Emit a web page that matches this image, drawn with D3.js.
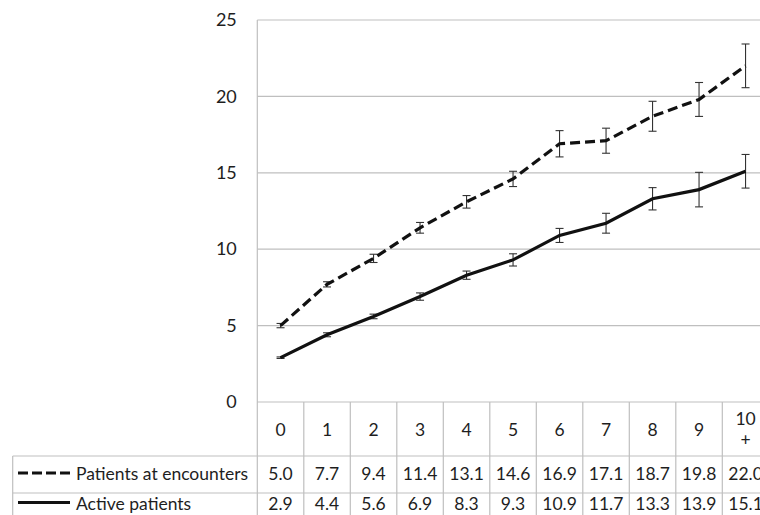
<!DOCTYPE html>
<html>
<head>
<meta charset="utf-8">
<script src="https://cdn.jsdelivr.net/npm/d3@7"></script>
<style>
  html, body { margin: 0; padding: 0; background: #fff; }
  svg { display: block; }
  text { font-family: Lato, "Open Sans", sans-serif; fill: #1e1e1e; }
</style>
</head>
<body>
<script>
// Categories along the x axis (shown in the header row of the data table)
const categories = ["0", "1", "2", "3", "4", "5", "6", "7", "8", "9", "10+"];

// Series values and their error-bar half widths
const encounters    = [5.0, 7.7, 9.4, 11.4, 13.1, 14.6, 16.9, 17.1, 18.7, 19.8, 22.0];
const encountersErr = [0.14, 0.17, 0.27, 0.35, 0.41, 0.50, 0.86, 0.82, 0.98, 1.11, 1.43];
const active        = [2.9, 4.4, 5.6, 6.9, 8.3, 9.3, 10.9, 11.7, 13.3, 13.9, 15.1];
const activeErr     = [0.05, 0.13, 0.15, 0.24, 0.27, 0.40, 0.46, 0.65, 0.73, 1.13, 1.10];

const seriesNames = ["Patients at encounters", "Active patients"];
const yTicks = [0, 5, 10, 15, 20, 25];

const W = 760, H = 515;
const plotLeft = 257.3, plotTop = 20, plotBottom = 402;
const bandW = 46.5;
const plotRight = plotLeft + bandW * categories.length;
const tableLeft = 12.7;
const rowLines = [402, 456, 493, 530];
const gridColor = "#bfbfbf";
const fs = 17.5;

const svg = d3.select("body").append("svg")
  .attr("width", W).attr("height", H);

const x = d3.scaleBand().domain(categories).range([plotLeft, plotRight]).padding(0);
const y = d3.scaleLinear().domain([0, 25]).range([plotBottom, plotTop]);

// Horizontal gridlines
svg.append("g").selectAll("line").data(yTicks.filter(t => t > 0)).join("line")
  .attr("x1", plotLeft).attr("x2", plotRight)
  .attr("y1", d => y(d)).attr("y2", d => y(d))
  .attr("stroke", gridColor).attr("stroke-width", 1.2);

// Y axis labels
const yAxis = svg.append("g")
  .attr("transform", `translate(${plotLeft - 20.5},0)`)
  .call(d3.axisLeft(y).tickValues(yTicks).tickSize(0).tickPadding(0));
yAxis.select(".domain").remove();
yAxis.selectAll("text")
  .style("font-family", "Lato, 'Open Sans', sans-serif")
  .attr("font-size", 18).attr("fill", "#1e1e1e");

// Plot area left edge and table grid
const grid = svg.append("g").attr("stroke", gridColor).attr("stroke-width", 1.2);
grid.append("line").attr("x1", plotLeft).attr("x2", plotLeft)
  .attr("y1", plotTop).attr("y2", H);
grid.append("line").attr("x1", plotLeft).attr("x2", plotRight)
  .attr("y1", rowLines[0]).attr("y2", rowLines[0]);
grid.selectAll(".rl").data(rowLines.slice(1, 3)).join("line")
  .attr("x1", tableLeft).attr("x2", plotRight)
  .attr("y1", d => d).attr("y2", d => d);
grid.append("line").attr("x1", tableLeft).attr("x2", tableLeft)
  .attr("y1", rowLines[1]).attr("y2", H);
grid.selectAll(".cl").data(categories).join("line")
  .attr("x1", d => x(d) + bandW).attr("x2", d => x(d) + bandW)
  .attr("y1", rowLines[0]).attr("y2", H);

// Header row: category labels (wrapping when wider than the cell)
const head = svg.append("g").selectAll("text").data(categories).join("text")
  .attr("text-anchor", "middle").attr("font-size", fs)
  .attr("x", d => x(d) + bandW / 2);
head.each(function (d) {
  const t = d3.select(this);
  const cx = x(d) + bandW / 2;
  if (d.length > 2) {
    t.append("tspan").attr("x", cx).attr("y", 425).text(d.slice(0, -1));
    t.append("tspan").attr("x", cx).attr("y", 446).text(d.slice(-1));
  } else {
    t.attr("y", 436).text(d);
  }
});

// Data rows with legend keys
const rows = [
  { name: seriesNames[0], values: encounters, dash: "10,4", yMid: 474 },
  { name: seriesNames[1], values: active, dash: null, yMid: 503.5 }
];
rows.forEach(r => {
  const g = svg.append("g");
  g.append("line").attr("x1", 18).attr("x2", 70)
    .attr("y1", r.yMid - 1).attr("y2", r.yMid - 1)
    .attr("stroke", "#111").attr("stroke-width", 3.2)
    .attr("stroke-dasharray", r.dash);
  g.append("text").attr("x", 76).attr("y", r.yMid + 6)
    .attr("font-size", fs).text(r.name);
  g.selectAll(".v").data(r.values).join("text")
    .attr("text-anchor", "middle").attr("font-size", fs)
    .attr("x", (d, i) => x(categories[i]) + bandW / 2)
    .attr("y", r.yMid + 6)
    .text(d => d3.format(".1f")(d));
});

// Error bars
function errorBars(values, errs) {
  const g = svg.append("g").attr("stroke", "#333").attr("stroke-width", 1.1);
  values.forEach((v, i) => {
    const cx = x(categories[i]) + bandW / 2;
    const y0 = y(v - errs[i]), y1 = y(v + errs[i]);
    g.append("line").attr("x1", cx).attr("x2", cx).attr("y1", y0).attr("y2", y1);
    g.append("line").attr("x1", cx - 4).attr("x2", cx + 4).attr("y1", y0).attr("y2", y0);
    g.append("line").attr("x1", cx - 4).attr("x2", cx + 4).attr("y1", y1).attr("y2", y1);
  });
}
errorBars(encounters, encountersErr);
errorBars(active, activeErr);

// Series lines
const line = d3.line()
  .x((d, i) => x(categories[i]) + bandW / 2)
  .y(d => y(d));
svg.append("path").datum(encounters)
  .attr("d", line).attr("fill", "none")
  .attr("stroke", "#111").attr("stroke-width", 3.2)
  .attr("stroke-dasharray", "10,5");
svg.append("path").datum(active)
  .attr("d", line).attr("fill", "none")
  .attr("stroke", "#111").attr("stroke-width", 3.2);
</script>
</body>
</html>
